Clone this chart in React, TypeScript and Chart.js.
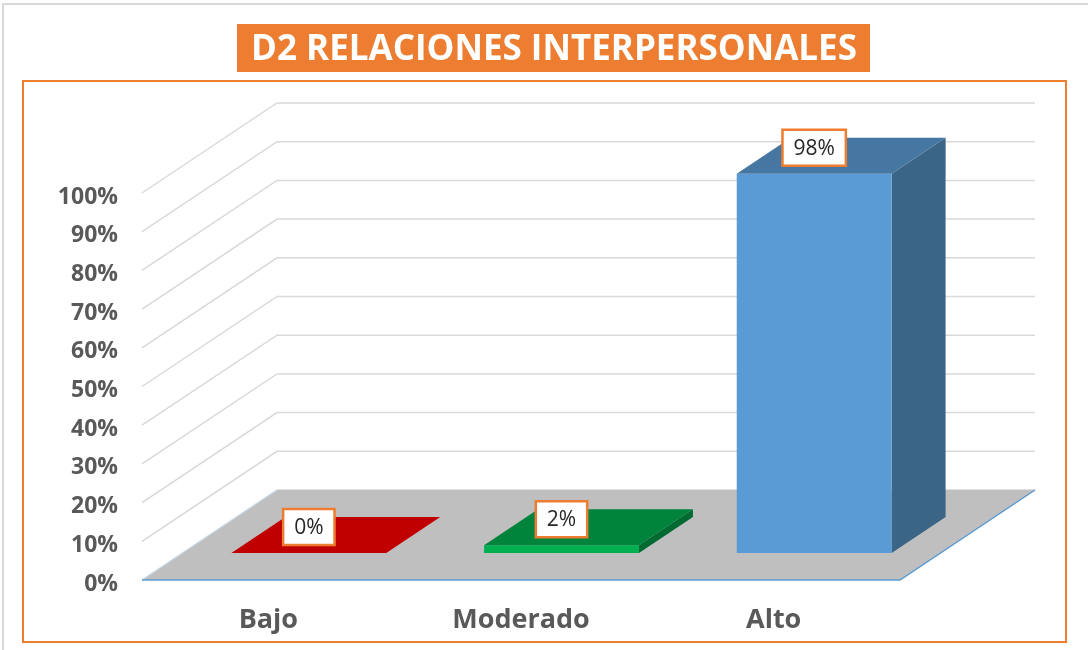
import React, { useEffect, useRef } from "react";
import { Chart, registerables } from "chart.js";

Chart.register(...registerables);

const TITLE = "D2 RELACIONES INTERPERSONALES";
const CATEGORIES = ["Bajo", "Moderado", "Alto"];
const VALUES = [0, 2, 98];
const Y_MIN = 0;
const Y_MAX = 100;
const Y_STEP = 10;

const FRONT_COLORS = ["#C00000", "#00B050", "#5B9BD5"];
const TOP_COLORS = ["#C00000", "#00843C", "#4676A2"];
const SIDE_COLORS = ["#A00000", "#006A30", "#3A6587"];

const W = 1088;
const H = 650;
// oblique depth of the 3D box
const DX = 135;
const DY = -90;
const FRONT = 0.3;
const BACK = 0.7;

const threeD = {
  id: "threeD",
  beforeDraw(chart: any) {
    const { ctx, chartArea, scales } = chart;
    const ys = scales.y;
    const L = chartArea.left;
    const R = chartArea.right;
    ctx.save();
    ctx.fillStyle = "#FFFFFF";
    ctx.fillRect(0, 0, W, H);
    // outer light border
    ctx.strokeStyle = "#D9D9D9";
    ctx.lineWidth = 2;
    ctx.beginPath();
    ctx.moveTo(3, H);
    ctx.lineTo(3, 4);
    ctx.lineTo(W, 4);
    ctx.stroke();
    // orange frame
    ctx.strokeStyle = "#ED7D31";
    ctx.lineWidth = 2;
    ctx.strokeRect(23, 81, 1043, 561);
    // title
    ctx.fillStyle = "#ED7D31";
    ctx.fillRect(237, 24, 633, 48);
    ctx.fillStyle = "#FFFFFF";
    ctx.font = "bold 35px 'Open Sans'";
    ctx.textAlign = "center";
    ctx.textBaseline = "middle";
    ctx.fillText(TITLE, 554, 50);
    // wall gridlines
    ctx.strokeStyle = "#D9D9D9";
    ctx.lineWidth = 1.5;
    ys.ticks.forEach((t: any) => {
      const py = ys.getPixelForValue(t.value);
      ctx.beginPath();
      ctx.moveTo(L, py);
      ctx.lineTo(L + DX, py + DY);
      ctx.lineTo(R + DX, py + DY);
      ctx.stroke();
    });
    // floor
    const y0 = ys.getPixelForValue(Y_MIN);
    ctx.fillStyle = "#BFBFBF";
    ctx.beginPath();
    ctx.moveTo(L, y0);
    ctx.lineTo(R, y0);
    ctx.lineTo(R + DX, y0 + DY);
    ctx.lineTo(L + DX, y0 + DY);
    ctx.closePath();
    ctx.fill();
    ctx.strokeStyle = "#C9DDF0";
    ctx.lineWidth = 1;
    ctx.beginPath();
    ctx.moveTo(L, y0);
    ctx.lineTo(L + DX, y0 + DY);
    ctx.stroke();
    ctx.strokeStyle = "#5B9BD5";
    ctx.lineWidth = 1.5;
    ctx.beginPath();
    ctx.moveTo(L, y0);
    ctx.lineTo(R, y0);
    ctx.lineTo(R + DX, y0 + DY);
    ctx.stroke();
    ctx.restore();
  },
  afterDatasetsDraw(chart: any) {
    const { ctx, scales } = chart;
    const ys = scales.y;
    const meta = chart.getDatasetMeta(0);
    const y0 = ys.getPixelForValue(Y_MIN);
    const fdx = FRONT * DX;
    const fdy = FRONT * DY;
    const bdx = (BACK - FRONT) * DX;
    const bdy = (BACK - FRONT) * DY;
    ctx.save();
    meta.data.forEach((el: any, i: number) => {
      const v = VALUES[i];
      const x0 = el.x - el.width / 2 + fdx;
      const x1 = el.x + el.width / 2 + fdx;
      const yb = y0 + fdy;
      const yt = ys.getPixelForValue(v) + fdy;
      if (yb - yt > 0.1) {
        ctx.fillStyle = SIDE_COLORS[i];
        ctx.beginPath();
        ctx.moveTo(x1, yt);
        ctx.lineTo(x1 + bdx, yt + bdy);
        ctx.lineTo(x1 + bdx, yb + bdy);
        ctx.lineTo(x1, yb);
        ctx.closePath();
        ctx.fill();
        ctx.fillStyle = FRONT_COLORS[i];
        ctx.fillRect(x0, yt, x1 - x0, yb - yt);
      }
      ctx.fillStyle = TOP_COLORS[i];
      ctx.beginPath();
      ctx.moveTo(x0, yt);
      ctx.lineTo(x1, yt);
      ctx.lineTo(x1 + bdx, yt + bdy);
      ctx.lineTo(x0 + bdx, yt + bdy);
      ctx.closePath();
      ctx.fill();
    });
    // data labels
    ctx.font = "21px 'Open Sans'";
    ctx.textAlign = "center";
    ctx.textBaseline = "middle";
    meta.data.forEach((el: any, i: number) => {
      const v = VALUES[i];
      const cx = el.x + fdx;
      const cy = ys.getPixelForValue(v) + fdy - 26;
      const txt = `${v}%`;
      const tw = ctx.measureText(txt).width;
      const bw = tw + 22;
      const bh = 36;
      ctx.fillStyle = "#FFFFFF";
      ctx.fillRect(cx - bw / 2, cy - bh / 2, bw, bh);
      ctx.strokeStyle = "#ED7D31";
      ctx.lineWidth = 2.5;
      ctx.strokeRect(cx - bw / 2, cy - bh / 2, bw, bh);
      ctx.fillStyle = "#262626";
      ctx.fillText(txt, cx, cy + 1);
    });
    ctx.restore();
  },
};

export default function App() {
  const ref = useRef<HTMLCanvasElement>(null);
  useEffect(() => {
    if (!ref.current) return;
    const chart = new Chart(ref.current, {
      type: "bar",
      data: {
        labels: CATEGORIES,
        datasets: [
          {
            data: VALUES,
            backgroundColor: "rgba(0,0,0,0)",
            borderWidth: 0,
            categoryPercentage: 1,
            barPercentage: 0.613,
          },
        ],
      },
      options: {
        responsive: false,
        animation: false,
        layout: { padding: { top: 193, left: 0, right: 188, bottom: 0 } },
        plugins: {
          legend: { display: false },
          title: { display: false },
          tooltip: { enabled: false },
        },
        scales: {
          x: {
            offset: true,
            grid: { display: false, drawTicks: false },
            border: { display: false },
            ticks: {
              color: "#595959",
              font: { family: "'Open Sans'", size: 27, weight: "bold" },
              padding: 24,
            },
            afterFit: (s: any) => {
              s.height = 70;
            },
          },
          y: {
            min: Y_MIN,
            max: Y_MAX,
            grid: { display: false, drawTicks: false },
            border: { display: false },
            ticks: {
              stepSize: Y_STEP,
              color: "#595959",
              font: { family: "'Open Sans'", size: 23, weight: "bold" },
              padding: 24,
              labelOffset: 4,
              callback: (v: any) => `${v}%`,
            },
            afterFit: (s: any) => {
              s.width = 142;
            },
          },
        },
      },
      plugins: [threeD],
    });
    return () => chart.destroy();
  }, []);
  return (
    <div style={{ position: "absolute", left: 0, top: 0, width: W, height: H }}>
      <canvas ref={ref} width={W} height={H} />
    </div>
  );
}
